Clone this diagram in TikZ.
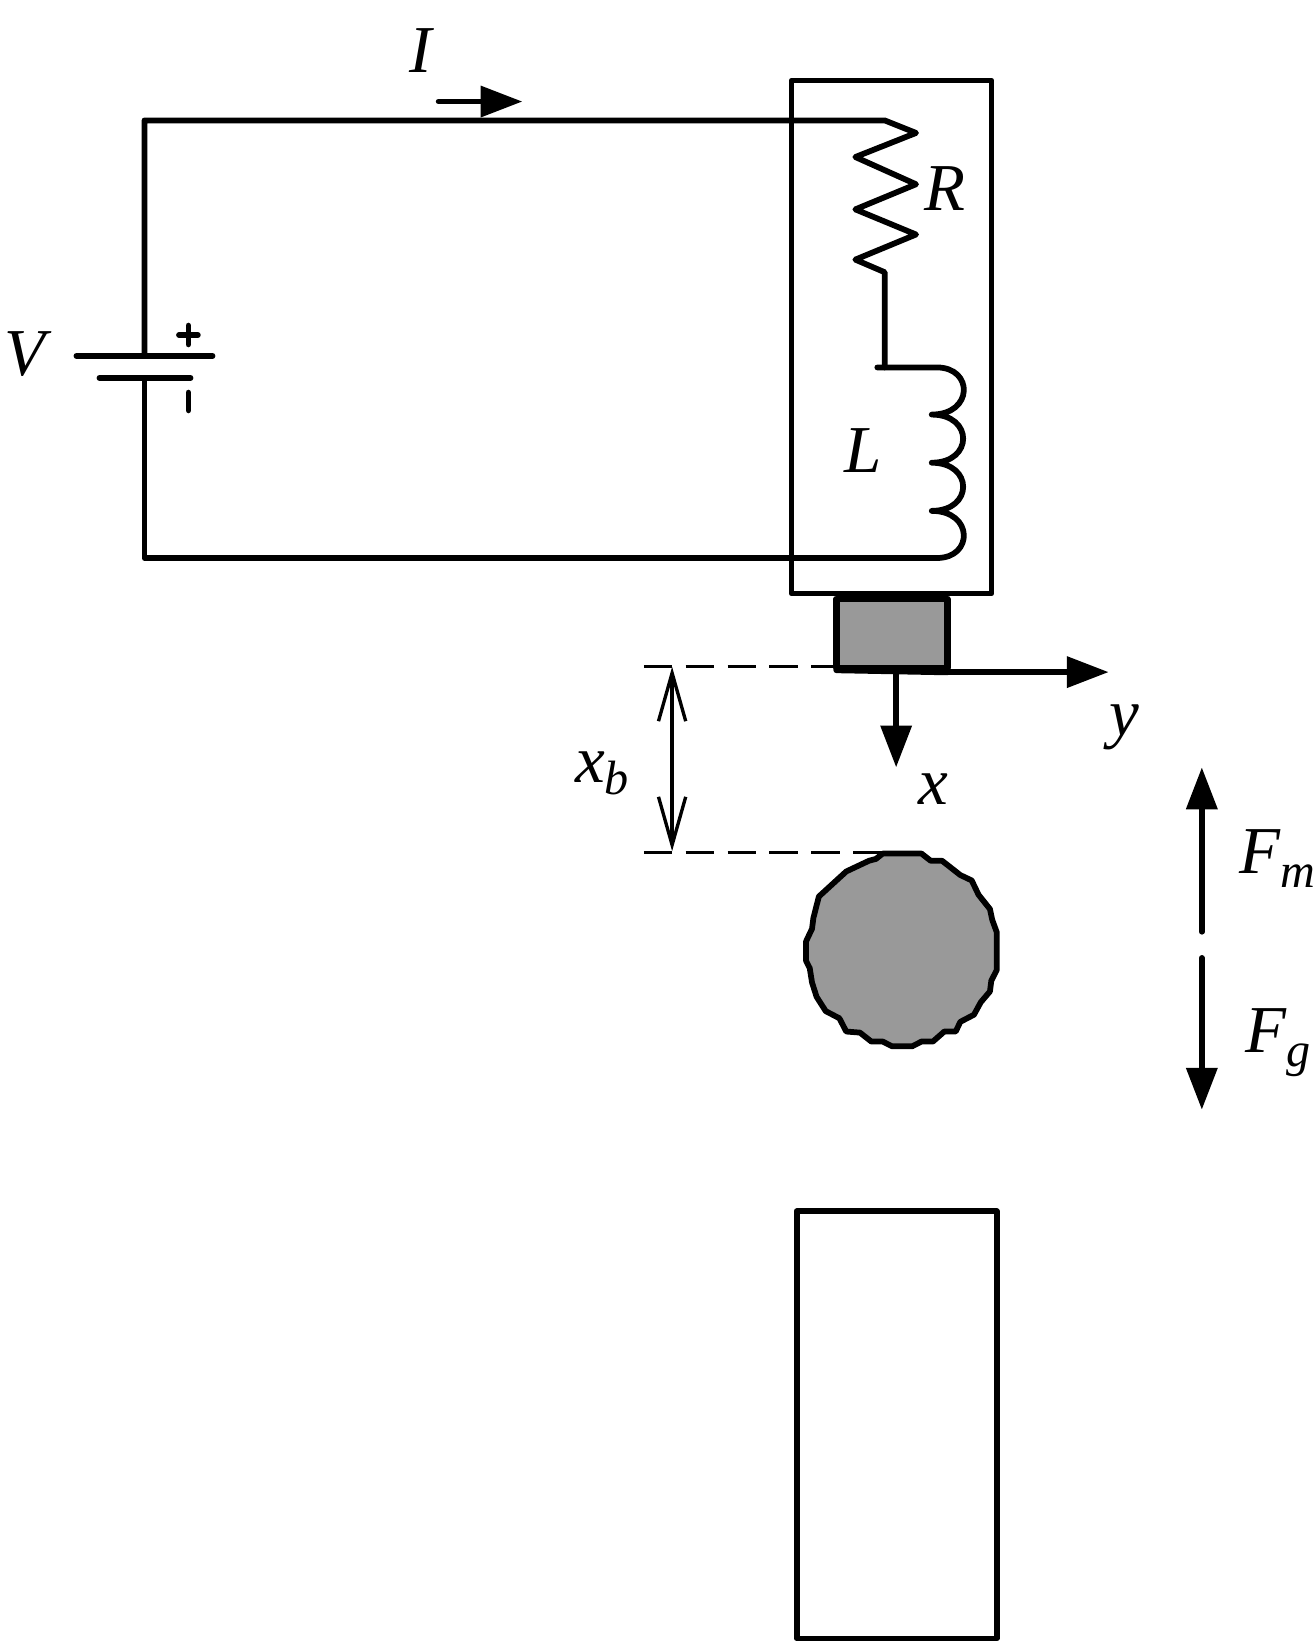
\documentclass[tikz,border=0pt]{standalone}
\usepackage{fontspec}
\setmainfont{Liberation Serif}
\usetikzlibrary{arrows.meta}
\definecolor{fillgray}{HTML}{999999}
\tikzset{
  wire/.style={line width=2.75pt,line cap=round,line join=round},
  thinwire/.style={line width=1.6pt,line cap=round},
  dashline/.style={line width=1.5pt,dash pattern=on 13.5pt off 6.5pt},
  solidhead/.style={wire,-{Triangle[length=20pt,width=14.5pt]}},
  openheads/.style={thinwire,{Straight Barb[length=23pt,width=13pt]}-{Straight Barb[length=23pt,width=13pt]}},
  lab/.style={inner sep=0pt,font=\fontsize{32pt}{34pt}\selectfont\itshape}
}
\begin{document}
\begin{tikzpicture}[x=0.5pt,y=-0.5pt]
\useasboundingbox (0,0) rectangle (1254,1567.5);
% coordinates
\coordinate (tl) at (138,115);
\coordinate (bl) at (138,533);
\coordinate (rs) at (845,115);
\coordinate (re) at (845,260);
\coordinate (ls) at (838,351);
\coordinate (le) at (895,533);
\coordinate (bp) at (138,340);
\coordinate (bn) at (138,361);
% circuit
\draw[wire] (bp) -- (tl) -- (rs) -- (875,127) -- (817,150) -- (875,176) -- (817,200) -- (875,224) -- (817,248) -- (re) -- (845,351);
\draw[wire] (bn) -- (bl) -- (le);
\draw[wire] (ls) -- (895,351)
  .. controls (930,351) and (930,396) .. (890,396)
  .. controls (930,396) and (930,442) .. (890,442)
  .. controls (930,442) and (930,488) .. (890,488)
  .. controls (930,488) and (930,533) .. (le);
% battery
\draw[wire] (73,340) -- (203,340);
\draw[wire] (95,361) -- (182,361);
\draw[wire] (171,320) -- (189,320);
\draw[wire] (180,311) -- (180,329);
\draw[wire] (180,375) -- (180,392);
% boxes
\draw[wire] (756,77) rectangle (947,567);
\draw[wire,line width=3pt,fill=fillgray] (799,572) rectangle (905,638);
\draw[wire] (761,1157) rectangle (952,1565);
% axes
\coordinate (ao) at (856,642);
\draw[wire,line width=3pt] (799,640) -- (905,642);
\draw[solidhead] (905,642) -- (1059,642);
\draw[solidhead] (ao) -- (856,733);
% dashes and dimension
\draw[dashline] (615,637) -- (799,637);
\draw[dashline] (615,814) -- (850,814);
\coordinate (d1) at (642,637);
\coordinate (d2) at (642,813);
\draw[openheads] (d1) -- (d2);
% ball
\begin{scope}[shift={(573,553.7)},x=0.2179pt,y=-0.171pt]
\draw[wire,fill=fillgray] (620,765)--(705,765)--(725,785)--(750,785)--(790,825)--(815,840)--(830,880)--(855,920)--(860,950)--(870,985)--(870,1090)--(858,1120)--(855,1150)--(835,1180)--(820,1215)--(790,1235)--(780,1262)--(755,1262)--(730,1290)--(705,1290)--(685,1303)--(640,1303)--(620,1290)--(595,1290)--(570,1265)--(540,1262)--(525,1225)--(495,1205)--(475,1165)--(465,1125)--(460,1085)--(452,1065)--(452,1010)--(465,975)--(468,945)--(480,885)--(540,815)--(590,785)--(605,780)--cycle;
\end{scope}
% forces and current
\draw[solidhead] (1148,890) -- (1148,733);
\draw[solidhead] (1148,915) -- (1148,1060);
\draw[solidhead] (419,97) -- (499,97);
% labels
\node[lab] (lI) at (402,48) {I};
\node[lab] (lV) at (24,338) {V};
\node[lab] (lR) at (903,180) {R};
\node[lab] (lL) at (824,430) {L};
\node[lab,anchor=base west] (lxb) at (549,747) {x\raisebox{-6pt}{\fontsize{23pt}{24pt}\selectfont b}};
\node[lab,anchor=base] (ly) at (1074,703) {y};
\node[lab,anchor=base] (lx) at (892,768) {x};
\node[lab,anchor=base west] (lFm) at (1184,834) {F\raisebox{-7pt}{\fontsize{23pt}{24pt}\selectfont m}};
\node[lab,anchor=base west] (lFg) at (1189,1005) {F\raisebox{-7pt}{\fontsize{23pt}{24pt}\selectfont g}};
\end{tikzpicture}
\end{document}
